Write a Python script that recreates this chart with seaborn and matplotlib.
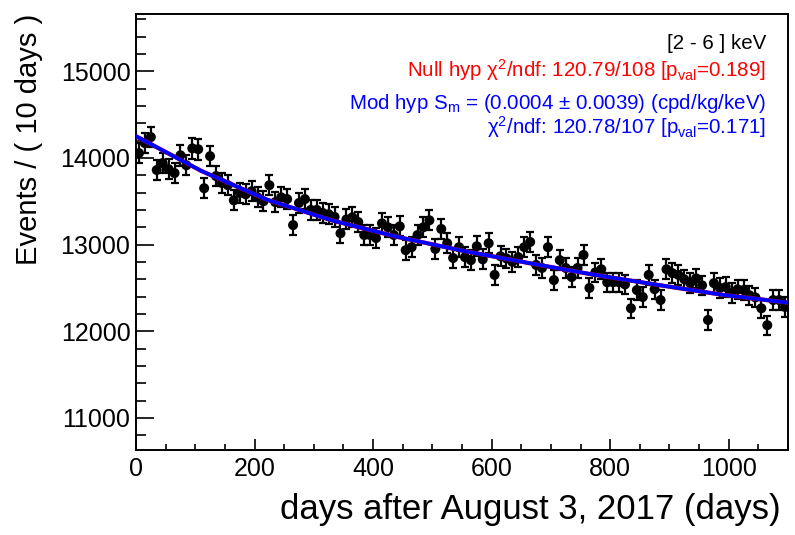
import numpy as np
import pandas as pd
import seaborn as sns
import matplotlib
matplotlib.use("Agg")
import matplotlib.pyplot as plt
from matplotlib.ticker import MultipleLocator

# events per 10-day bin (bins centred at 5, 15, ..., 1095 days)
bin_days = np.arange(5, 1100, 10)
events = [
    14055, 14170, 14240, 13860, 13940, 13870, 13825, 14030, 13915, 14110,
    14100, 13650, 14020, 13790, 13710, 13685, 13510, 13595, 13580, 13615,
    13545, 13500, 13685, 13490, 13545, 13525, 13225, 13480, 13525, 13400,
    13400, 13365, 13350, 13320, 13130, 13290, 13315, 13260, 13110, 13110,
    13075, 13245, 13200, 13110, 13210, 12935, 12970, 13110, 13200, 13280,
    12950, 13180, 13015, 12845, 12970, 12855, 12820, 12980, 12830, 13015,
    12650, 12865, 12840, 12800, 12855, 12970, 13030, 12765, 12730, 12970,
    12590, 12820, 12730, 12625, 12730, 12880, 12500, 12680, 12715, 12565,
    12565, 12565, 12540, 12265, 12475, 12395, 12650, 12485, 12360, 12715,
    12670, 12650, 12600, 12555, 12610, 12530, 12130, 12555, 12500, 12510,
    12440, 12485, 12475, 12415, 12390, 12265, 12070, 12360, 12360, 12280,
]

# fitted curves (null and modulation hypotheses overlap)
fit_days = [0, 110, 220, 330, 440, 550, 660, 770, 880, 990, 1100]
fit_events = [14250, 13850, 13520, 13280, 13090, 12930, 12790, 12655, 12535, 12420, 12330]

x_ticks = [0, 200, 400, 600, 800, 1000]
y_ticks = [11000, 12000, 13000, 14000, 15000]

df = pd.DataFrame({"days": bin_days, "events": events})
df["err"] = np.sqrt(df["events"])
fit = pd.DataFrame({"days": fit_days, "events": fit_events})

sns.set_theme(style="ticks")
plt.rcParams["font.family"] = ["Liberation Sans", "DejaVu Sans"]
plt.rcParams["mathtext.fontset"] = "custom"
plt.rcParams["mathtext.rm"] = "Liberation Sans"
plt.rcParams["mathtext.it"] = "Liberation Sans:italic"
plt.rcParams["text.color"] = "black"

fig = plt.figure(figsize=(7.95, 5.35), dpi=100)
ax = fig.add_axes([136 / 795, 85 / 535, 652 / 795, 436 / 535])

ax.errorbar(df["days"], df["events"], yerr=df["err"], fmt="none",
            ecolor="black", elinewidth=1.6, capsize=3.0, capthick=1.6, zorder=2)
sns.scatterplot(data=df, x="days", y="events", color="black", s=52,
                edgecolor="none", ax=ax, zorder=3)
sns.lineplot(data=fit, x="days", y="events", color="red", linewidth=3.0,
             ax=ax, zorder=4)
sns.lineplot(data=fit, x="days", y="events", color="blue", linewidth=2.8,
             ax=ax, zorder=5)

ax.set_xlim(0, 1100)
ax.set_ylim(10630, 15660)
ax.set_xticks(x_ticks)
ax.set_yticks(y_ticks)
ax.xaxis.set_minor_locator(MultipleLocator(50))
ax.yaxis.set_minor_locator(MultipleLocator(200))
ax.tick_params(axis="both", which="both", direction="in", colors="black",
               labelsize=18, width=1.2, top=False, right=False)
ax.tick_params(axis="y", which="major", length=13, pad=4)
ax.tick_params(axis="y", which="minor", length=7)
ax.tick_params(axis="x", which="major", length=8, pad=5)
ax.tick_params(axis="x", which="minor", length=4.5)
for sp in ax.spines.values():
    sp.set_visible(True)
    sp.set_color("black")
    sp.set_linewidth(1.4)
ax.set_xlabel("")
ax.set_ylabel("")

fig.text(0.036, 0.974, "Events / ( 10 days )", rotation=90, ha="center",
         va="top", fontsize=21, color="black")
fig.text(0.982, 0.047, "days after August 3, 2017 (days)", ha="right",
         va="center", fontsize=25, color="black")

tx = 0.9635
fs = 14.8
fig.text(tx, 0.918, "[2 - 6 ] keV", ha="right", va="center", fontsize=fs,
         color="black")
fig.text(tx, 0.869, r"Null hyp χ$^{2}$/ndf: 120.79/108 [p$_{\rm val}$=0.189]",
         ha="right", va="center", fontsize=fs, color="#ff0000")
fig.text(tx, 0.807, r"Mod hyp S$_{\rm m}$ = (0.0004 ± 0.0039) (cpd/kg/keV)",
         ha="right", va="center", fontsize=fs, color="#0000ff")
fig.text(tx, 0.763, r"χ$^{2}$/ndf: 120.78/107 [p$_{\rm val}$=0.171]",
         ha="right", va="center", fontsize=fs, color="#0000ff")

fig.savefig("out.png", dpi=100, facecolor="white")
